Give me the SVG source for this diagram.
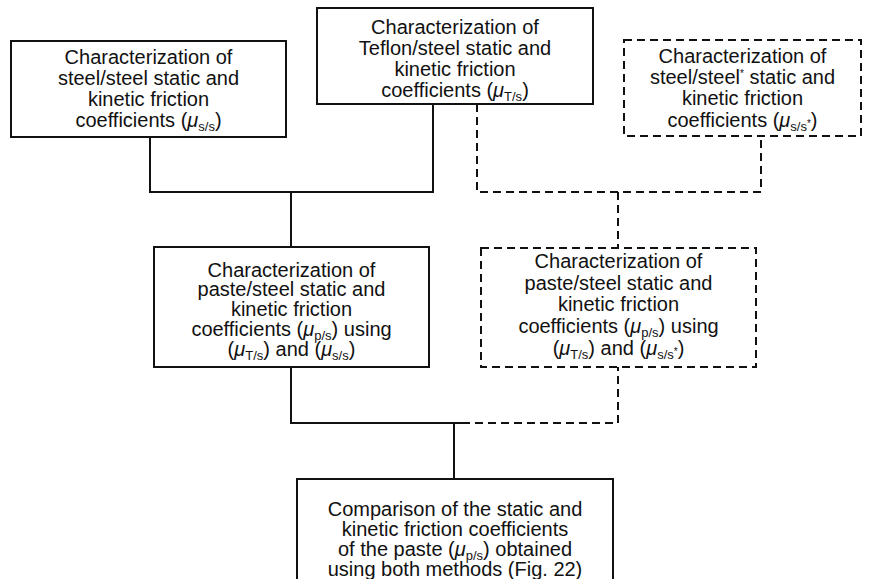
<svg xmlns="http://www.w3.org/2000/svg" width="887" height="579" viewBox="0 0 887 579">
<style>
.box{fill:#fff;stroke:#111;stroke-width:2}
.dbox{fill:#fff;stroke:#111;stroke-width:2;stroke-dasharray:8 5}
.ln{fill:none;stroke:#111;stroke-width:2}
.dl{fill:none;stroke:#111;stroke-width:2;stroke-dasharray:8 5}
text{font-family:"Liberation Sans",Arial,sans-serif;font-size:20px;fill:#111;text-anchor:middle}
.mu{font-style:italic}
.sb{font-size:13px}
.sp{font-size:10px}
</style>
<rect width="887" height="579" fill="#fff"/>
<g id="connectors">
<path class="ln" d="M150,137 V192 H433 V104"/>
<path class="ln" d="M291,192 V247"/>
<path class="dl" d="M477,104 V192 H761 V136"/>
<path class="dl" d="M618,192 V248"/>
<path class="ln" d="M291,367 V423 H462"/>
<path class="dl" d="M462,423 H618 V367"/>
<path class="ln" d="M454,423 V479"/>
</g>
<g id="node-steel-steel">
<rect class="box" x="11" y="41" width="275" height="96"/>
<text x="148.5" y="64">Characterization of</text>
<text x="148.5" y="85">steel/steel static and</text>
<text x="148.5" y="106">kinetic friction</text>
<text x="148.5" y="127">coefficients (<tspan class="mu">μ</tspan><tspan class="sb" dy="4">s/s</tspan><tspan dy="-4">)</tspan></text>
</g>
<g id="node-teflon-steel">
<rect class="box" x="317" y="8" width="276" height="96"/>
<text x="455" y="33.5">Characterization of</text>
<text x="455" y="54.5">Teflon/steel static and</text>
<text x="455" y="75.5">kinetic friction</text>
<text x="455" y="96.5">coefficients (<tspan class="mu">μ</tspan><tspan class="sb" dy="4">T/s</tspan><tspan dy="-4">)</tspan></text>
</g>
<g id="node-steel-steel-star">
<rect class="dbox" x="624" y="40" width="237" height="96"/>
<text x="742.5" y="63">Characterization of</text>
<text x="742.5" y="84">steel/steel<tspan class="sp" dy="-7">*</tspan><tspan dy="7"> static and</tspan></text>
<text x="742.5" y="105">kinetic friction</text>
<text x="742.5" y="126.5">coefficients (<tspan class="mu">μ</tspan><tspan class="sb" dy="4">s/s</tspan><tspan class="sp" dy="-4">*</tspan><tspan dy="0">)</tspan></text>
</g>
<g id="node-paste-steel-1">
<rect class="box" x="154" y="247" width="275" height="120"/>
<text x="291.5" y="276.5">Characterization of</text>
<text x="291.5" y="296">paste/steel static and</text>
<text x="291.5" y="316">kinetic friction</text>
<text x="291.5" y="335.5">coefficients (<tspan class="mu">μ</tspan><tspan class="sb" dy="4">p/s</tspan><tspan dy="-4">) using</tspan></text>
<text x="291.5" y="355.5">(<tspan class="mu">μ</tspan><tspan class="sb" dy="4">T/s</tspan><tspan dy="-4">) and (</tspan><tspan class="mu">μ</tspan><tspan class="sb" dy="4">s/s</tspan><tspan dy="-4">)</tspan></text>
</g>
<g id="node-paste-steel-2">
<rect class="dbox" x="481" y="248" width="275" height="119"/>
<text x="618.5" y="268">Characterization of</text>
<text x="618.5" y="289.7">paste/steel static and</text>
<text x="618.5" y="311.4">kinetic friction</text>
<text x="618.5" y="333">coefficients (<tspan class="mu">μ</tspan><tspan class="sb" dy="4">p/s</tspan><tspan dy="-4">) using</tspan></text>
<text x="618.5" y="354.7">(<tspan class="mu">μ</tspan><tspan class="sb" dy="4">T/s</tspan><tspan dy="-4">) and (</tspan><tspan class="mu">μ</tspan><tspan class="sb" dy="4">s/s</tspan><tspan class="sp" dy="-4">*</tspan><tspan dy="0">)</tspan></text>
</g>
<g id="node-comparison">
<rect class="box" x="297" y="479" width="316" height="120"/>
<text x="455" y="516">Comparison of the static and</text>
<text x="455" y="536">kinetic friction coefficients</text>
<text x="455" y="556">of the paste (<tspan class="mu">μ</tspan><tspan class="sb" dy="4">p/s</tspan><tspan dy="-4">) obtained</tspan></text>
<text x="455" y="576">using both methods (Fig. 22)</text>
</g>
</svg>
